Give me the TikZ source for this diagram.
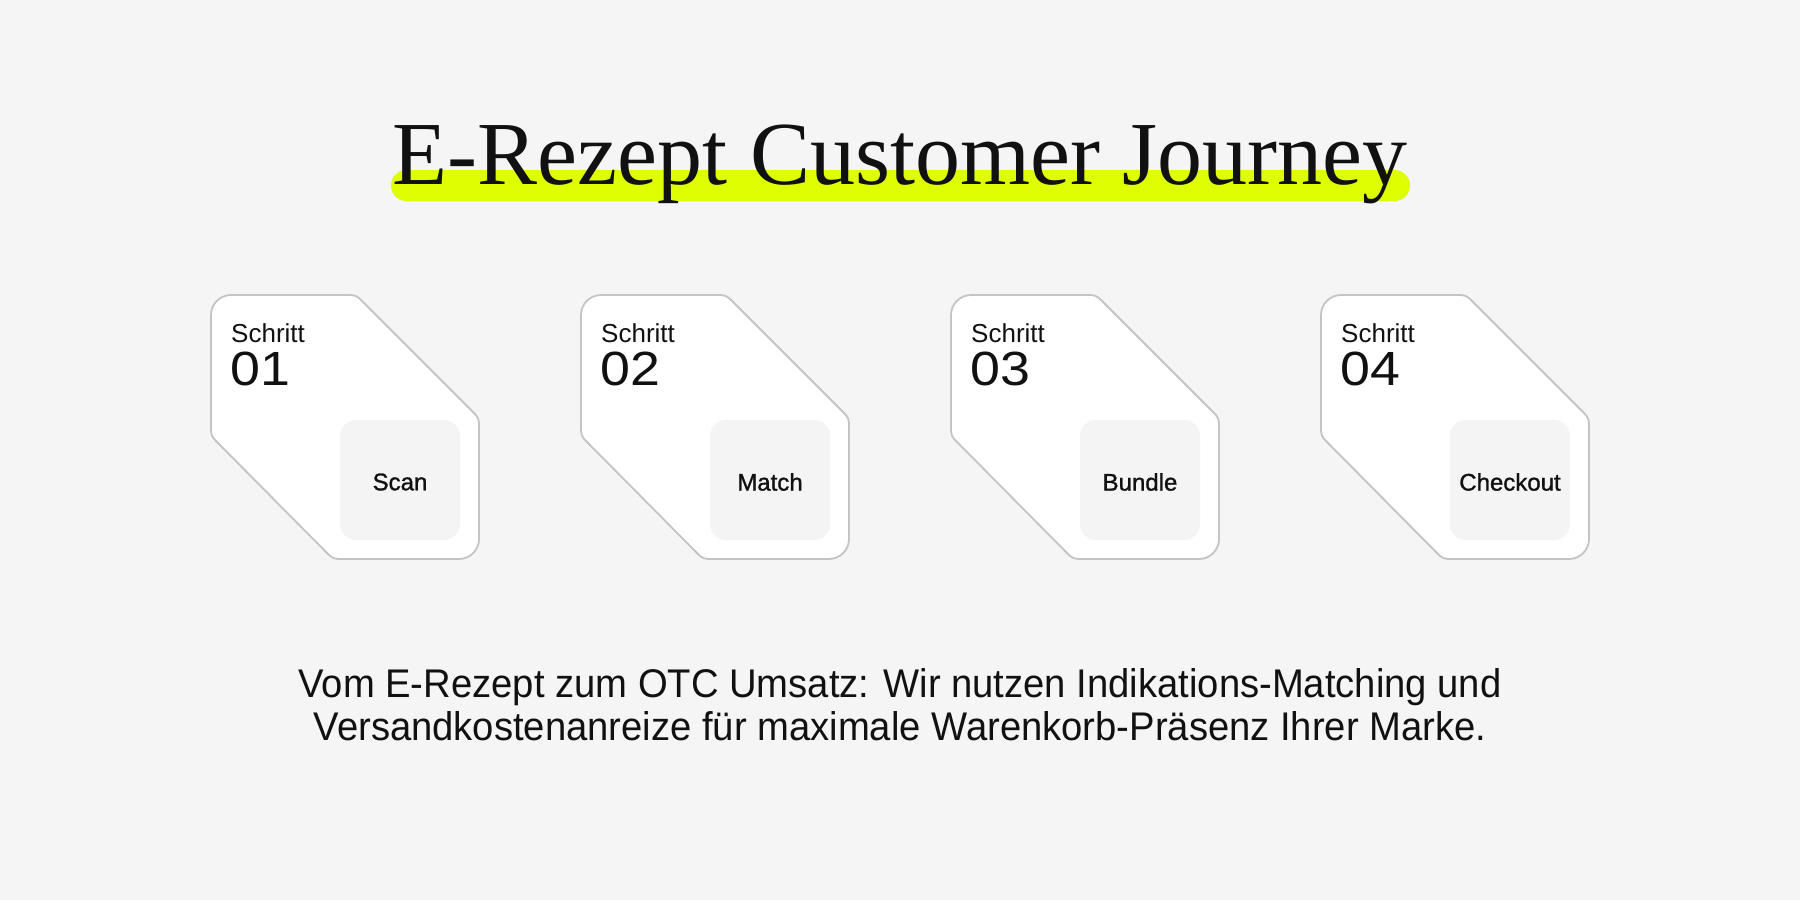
\documentclass[tikz,border=0pt]{standalone}
\usepackage{fontspec}
\setmainfont{Liberation Serif}
\newfontfamily\grot{Liberation Sans}
\newfontfamily\grotmed[FakeBold=1.2]{Liberation Sans}
\definecolor{bg}{HTML}{F5F5F5}
\definecolor{ink}{HTML}{111111}
\definecolor{lime}{HTML}{DDFF00}
\definecolor{cardline}{HTML}{C4C4C4}
\definecolor{inner}{HTML}{F4F4F4}
\tikzset{
  cardshape/.style={draw=cardline, line width=1.8pt, fill=white},
  innerbox/.style={fill=inner, rounded corners=16pt},
  steplbl/.style={anchor=base west, inner sep=0pt, text=ink, font=\grot\fontsize{26}{30}\selectfont},
  stepnum/.style={anchor=base west, inner sep=0pt, text=ink, font=\grot\fontsize{48}{52}\selectfont},
  boxlbl/.style={anchor=center, inner sep=0pt, text=ink, font=\grotmed\fontsize{24}{28}\selectfont},
  bodytxt/.style={anchor=base, inner sep=0pt, text=ink, font=\grot\fontsize{40}{44}\selectfont},
}
\begin{document}
\begin{tikzpicture}[x=1pt,y=-1pt]
\fill[bg] (0,0) rectangle (1800,900);
\useasboundingbox (0,0) rectangle (1800,900);
% highlight bar
\fill[lime, rounded corners=15.5pt] (391,170) rectangle (1410,201);
\node[anchor=base, inner sep=0pt, text=ink, font=\fontsize{90}{94}\selectfont] (title) at (900,184) {E-Rezept Customer Journey};
% cards
\foreach \i/\num/\lbl in {0/01/Scan,1/02/Match,2/03/Bundle,3/04/Checkout}{
  \begin{scope}[shift={(211+370*\i,295)}]
    \draw[cardshape] (0,20) .. controls (0,9) and (9,0) .. (20,0)
      -- (134,0) .. controls (145,0) .. (152,7)
      -- (261,116) .. controls (268,123) .. (268,134)
      -- (268,244) .. controls (268,255) and (259,264) .. (248,264)
      -- (133,264) .. controls (122,264) .. (115,257)
      -- (7,148) .. controls (0,141) .. (0,130)
      -- cycle;
    \fill[innerbox] (129,125) rectangle (249,245);
    \node[steplbl] (s\num) at (20,47) {Schritt};
    \node[stepnum] (n\num) at (19,90) {\scalebox{1.12}[1]{\num}};
    \node[boxlbl] (b\num) at (189,187) {\lbl};
  \end{scope}
}
\node[bodytxt] (body1) at (900,697) {\scalebox{0.955}[1]{Vom E-Rezept zum OTC Umsatz: Wir nutzen Indikations-Matching und}};
\node[bodytxt] (body2) at (900,740) {\scalebox{0.955}[1]{Versandkostenanreize für maximale Warenkorb-Präsenz Ihrer Marke.}};
\end{tikzpicture}
\end{document}
